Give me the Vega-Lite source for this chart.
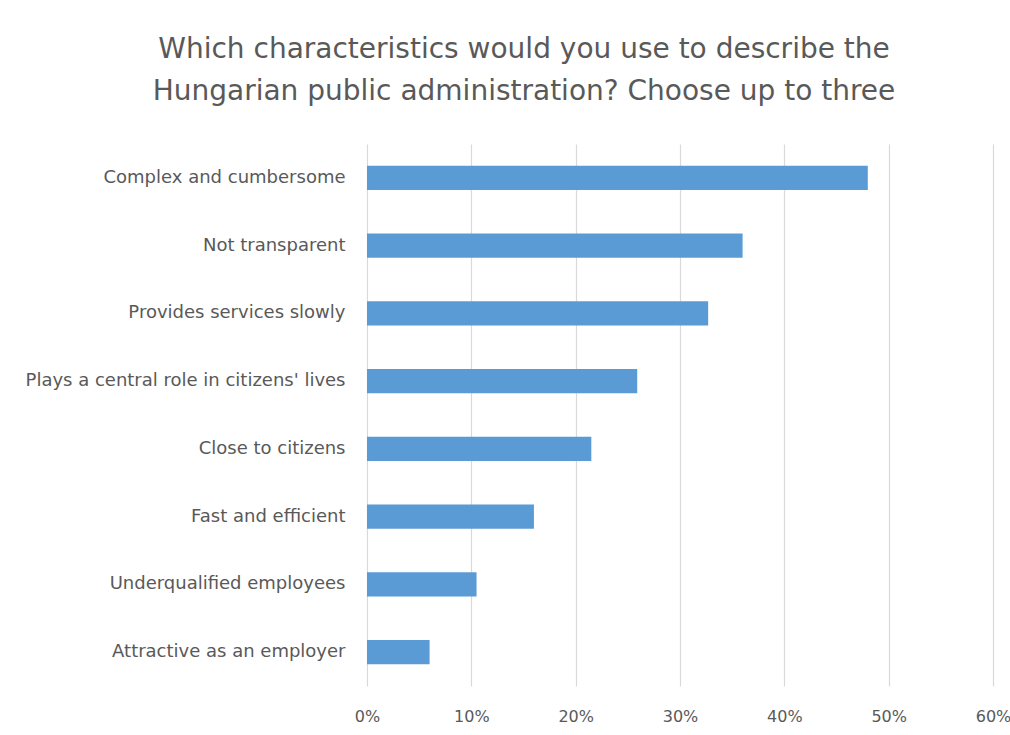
{
  "$schema": "https://vega.github.io/schema/vega-lite/v6.json",
  "autosize": {"type": "none"},
  "padding": {"left": 367, "top": 144, "right": 17, "bottom": 49},
  "width": 626,
  "height": 542,
  "background": "white",
  "title": {
    "text": ["Which characteristics would you use to describe the", "Hungarian public administration? Choose up to three"],
    "font": "DejaVu Sans",
    "fontSize": 28,
    "fontWeight": "normal",
    "color": "#595959",
    "anchor": "middle",
    "dx": -156,
    "offset": 38,
    "lineHeight": 42
  },
  "data": {
    "values": [
      {"characteristic": "Complex and cumbersome", "share": 0.48},
      {"characteristic": "Not transparent", "share": 0.36},
      {"characteristic": "Provides services slowly", "share": 0.327},
      {"characteristic": "Plays a central role in citizens' lives", "share": 0.259},
      {"characteristic": "Close to citizens", "share": 0.215},
      {"characteristic": "Fast and efficient", "share": 0.16},
      {"characteristic": "Underqualified employees", "share": 0.105},
      {"characteristic": "Attractive as an employer", "share": 0.06}
    ]
  },
  "mark": {"type": "bar", "color": "#5B9BD5"},
  "encoding": {
    "y": {
      "field": "characteristic",
      "type": "nominal",
      "sort": null,
      "scale": {"paddingInner": 0.645, "paddingOuter": 0.3225},
      "axis": {
        "title": null,
        "domain": false,
        "ticks": false,
        "labelPadding": 22,
        "labelFont": "DejaVu Sans",
        "labelFontSize": 18,
        "labelColor": "#595959",
        "labelLimit": 400
      }
    },
    "x": {
      "field": "share",
      "type": "quantitative",
      "scale": {"domain": [0, 0.6], "nice": false},
      "axis": {
        "title": null,
        "format": ".0%",
        "values": [0, 0.1, 0.2, 0.3, 0.4, 0.5, 0.6],
        "domain": false,
        "ticks": false,
        "grid": true,
        "gridColor": "#d9d9d9",
        "gridWidth": 1.2,
        "labelFlush": false,
        "labelPadding": 22,
        "labelFont": "DejaVu Sans",
        "labelFontSize": 16,
        "labelColor": "#595959"
      }
    }
  },
  "config": {"view": {"stroke": null}}
}
